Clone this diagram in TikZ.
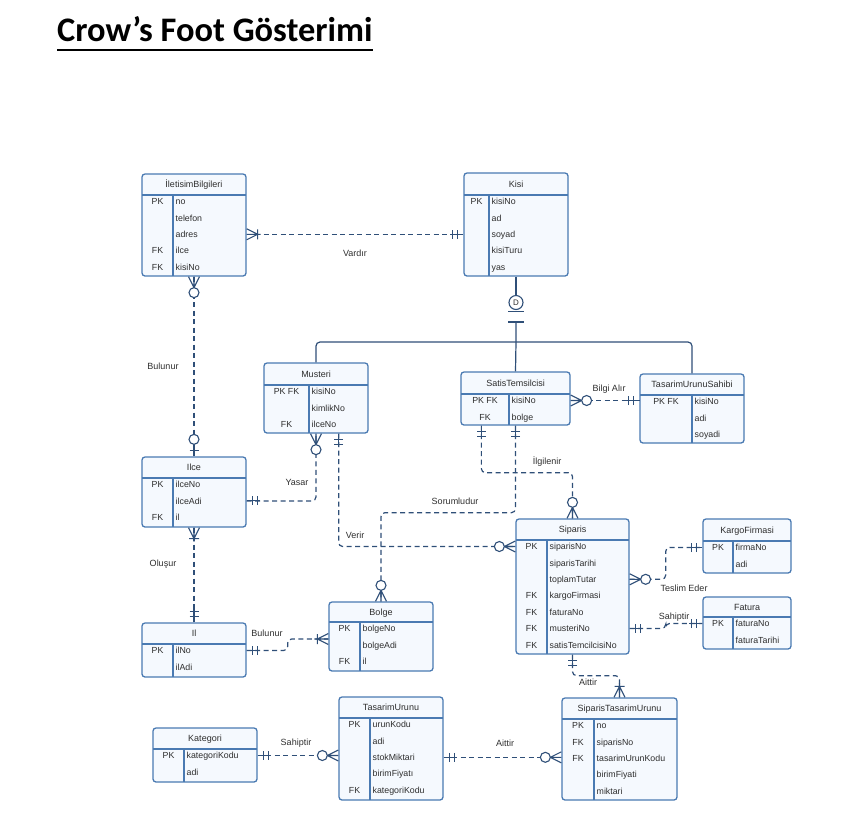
\documentclass[tikz,border=0pt]{standalone}
\usepackage{fontspec}
\setmainfont{Liberation Sans}
\newfontfamily\titlefont{Carlito}
\usetikzlibrary{calc}
\definecolor{entstroke}{HTML}{4A7AB2}
\definecolor{entfill}{HTML}{F5F9FE}
\definecolor{conn}{HTML}{2F4F78}
\definecolor{txt}{HTML}{2E2E2E}
\tikzset{
  entbox/.style={draw=entstroke, fill=entfill, line width=1.3pt, rounded corners=3pt, inner sep=0pt},
  entline/.style={draw=entstroke, line width=1.3pt},
  enttitle/.style={anchor=base, inner sep=0pt, text=txt, font=\fontsize{9}{10}\selectfont},
  keytext/.style={anchor=base, inner sep=0pt, text=txt, font=\fontsize{8.8}{10}\selectfont},
  fieldtext/.style={anchor=base west, inner sep=0pt, text=txt, font=\fontsize{8.8}{10}\selectfont},
  rel/.style={draw=conn, line width=1.2pt, dash pattern=on 5pt off 3.5pt, rounded corners=4pt},
  rellabel/.style={inner sep=0pt, text=txt, font=\fontsize{9}{10}\selectfont},
  isaline/.style={draw=conn, line width=1.2pt},
  erend/.style={draw=conn, line width=1.1pt, solid},
  pics/onlyone/.style={code={\draw[erend] (0,0)--(13,0) (6,-4.5)--(6,4.5) (10.5,-4.5)--(10.5,4.5);}},
  pics/onemany/.style={code={\draw[erend] (0,-5.5)--(11,0)--(0,5.5) (0,0)--(14,0) (11,-5)--(11,5);}},
  pics/zeromany/.style={code={\draw[erend] (0,-5.5)--(11,0)--(0,5.5) (0,0)--(11,0); \draw[erend,fill=white] (16,0) circle[radius=5];}},
  pics/zeroone/.style={code={\draw[erend] (0,0)--(12,0) (6,-4.5)--(6,4.5); \draw[erend,fill=white] (17,0) circle[radius=5];}},
}
% #1 id, #2 left, #3 top, #4 right, #5 divider, #6 header bottom, #7 bottom, #8 title, #9 rows
\newcommand\erent[9]{%
  \node[entbox, minimum width={(#4-#2)*1pt}, minimum height={(#7-#3)*1pt}] (#1) at ({(#2+#4)/2},{(#3+#7)/2}) {};
  \draw[entline] (#2,#6) -- (#4,#6) (#5,#6) -- (#5,#7);
  \node[enttitle] (#1-t) at ({(#2+#4)/2},{(#3+#6)/2+3.3}) {#8};
  \foreach \k/\f [count=\i] in {#9} {%
    \coordinate (#1-r\i) at (#5,{#6+6.5+(\i-1)*16.4});
    \node[keytext] (#1-k\i) at ({(#2+#5)/2},{#6+6.5+(\i-1)*16.4+3.2}) {\k};
    \node[fieldtext] (#1-\i) at ({#5+2.5},{#6+6.5+(\i-1)*16.4+3.2}) {\f};
  }%
}
\begin{document}
\begin{tikzpicture}[x=1pt,y=-1pt]
\useasboundingbox (0,0) rectangle (846,831);
% title
\node[anchor=base west, inner sep=0pt, font=\titlefont\bfseries\fontsize{34.4}{38}\selectfont] (title) at (57,41) {Crow’s Foot Gösterimi};
\draw[line width=2.3pt] ($(title.base west)+(0,9)$) -- ($(title.base east)+(0,9)$);
% entities
\erent{iletisim}{142}{174}{246}{173}{195}{276}{İletisimBilgileri}{PK/no, /telefon, /adres, FK/ilce, FK/kisiNo}
\erent{kisi}{464}{173}{568}{489}{195}{276}{Kisi}{PK/kisiNo, /ad, /soyad, /kisiTuru, /yas}
\erent{musteri}{264}{363}{368}{309}{385}{433}{Musteri}{PK FK/kisiNo, /kimlikNo, FK/ilceNo}
\erent{satis}{461}{372}{570}{509}{394}{425}{SatisTemsilcisi}{PK FK/kisiNo, FK/bolge}
\erent{tus}{640}{374}{744}{692}{395}{443}{TasarimUrunuSahibi}{PK FK/kisiNo, /adi, /soyadi}
\erent{ilce}{142}{457}{246}{173}{478}{527}{Ilce}{PK/ilceNo, /ilceAdi, FK/il}
\erent{il}{142}{623}{246}{173}{644}{677}{Il}{PK/ilNo, /ilAdi}
\erent{bolge}{329}{602}{433}{360}{622}{671}{Bolge}{PK/bolgeNo, /bolgeAdi, FK/il}
\erent{siparis}{516}{519}{629}{547}{540}{654}{Siparis}{PK/siparisNo, /siparisTarihi, /toplamTutar, FK/kargoFirmasi, FK/faturaNo, FK/musteriNo, FK/satisTemcilcisiNo}
\erent{kargo}{703}{519}{791}{733}{541}{573}{KargoFirmasi}{PK/firmaNo, /adi}
\erent{fatura}{703}{597}{791}{733}{617}{649}{Fatura}{PK/faturaNo, /faturaTarihi}
\erent{kategori}{153}{728}{257}{184}{749}{782}{Kategori}{PK/kategoriKodu, /adi}
\erent{tu}{339}{697}{443}{370}{718}{800}{TasarimUrunu}{PK/urunKodu, /adi, /stokMiktari, /birimFiyatı, FK/kategoriKodu}
\erent{stu}{562}{698}{677}{594}{719}{800}{SiparisTasarimUrunu}{PK/no, FK/siparisNo, FK/tasarimUrunKodu, /birimFiyati, /miktari}
% ISA (disjoint) structure
\node[circle, draw=conn, line width=1.1pt, minimum size=14pt, inner sep=0pt, fill=white, text=txt, font=\fontsize{8}{8}\selectfont] (isad) at (516,302.5) {D};
\draw[isaline] (kisi.south) -- (isad.north);
\draw[isaline] ($(isad.south)+(-8,1.2)$) -- ($(isad.south)+(8,1.2)$);
\coordinate (isat) at (516,322);
\coordinate (isabus) at (516,342);
\draw[isaline] ($(isat)+(-8,0)$) -- ($(isat)+(8,0)$);
\draw[isaline] (isat) -- (isabus) -- (satis.north);
\draw[isaline, rounded corners=4pt] (musteri.north) -- (musteri.north |- isabus) -- (tus.north |- isabus) -- (tus.north);
% helper coordinates
\coordinate (musv) at ($(musteri.south east)+(-30,0)$);
\coordinate (satv) at ($(satis.south west)+(21,0)$);
\coordinate (bolgw) at ($(bolge.west)+(0,2.5)$);
% relationships
\draw[rel] (iletisim.east |- iletisim-r3) -- (kisi.west |- iletisim-r3);
\pic at (iletisim.east |- iletisim-r3) {onemany};
\pic[rotate=180] at (kisi.west |- iletisim-r3) {onlyone};
\node[rellabel] (l-vardir) at (355,253) {Vardır};

\draw[rel] (iletisim.south) -- (ilce.north);
\pic[rotate=-90] at (iletisim.south) {zeromany};
\pic[rotate=90] at (ilce.north) {zeroone};
\node[rellabel] (l-bulunur1) at (163,366) {Bulunur};

\draw[rel] (ilce.east |- ilce-r2) -| (musteri.south);
\pic at (ilce.east |- ilce-r2) {onlyone};
\pic[rotate=-90] at (musteri.south) {zeromany};
\node[rellabel] (l-yasar) at (297,482) {Yasar};

\draw[rel] (musv) |- (siparis.west |- siparis-r1);
\pic[rotate=-90] at (musv) {onlyone};
\pic[rotate=180] at (siparis.west |- siparis-r1) {zeromany};
\node[rellabel] (l-verir) at (355,535) {Verir};

\draw[rel] (satis.east |- satis-r1) -- (tus.west |- satis-r1);
\pic at (satis.east |- satis-r1) {zeromany};
\pic[rotate=180] at (tus.west |- satis-r1) {onlyone};
\node[rellabel] (l-bilgi) at (609,389) {Bilgi Alır};

\draw[rel] (satis.south) -- ++(0,87) -| (bolge.north);
\pic[rotate=-90] at (satis.south) {onlyone};
\pic[rotate=90] at (bolge.north) {zeromany};
\node[rellabel] (l-sorum) at (455,501) {Sorumludur};

\draw[rel] (satv) -- ++(0,47) -| (siparis.north);
\pic[rotate=-90] at (satv) {onlyone};
\pic[rotate=90] at (siparis.north) {zeromany};
\node[rellabel] (l-ilgi) at (547,462) {İlgilenir};

\draw[rel] (ilce.south) -- (il.north);
\pic[rotate=-90] at (ilce.south) {onemany};
\pic[rotate=90] at (il.north) {onlyone};
\node[rellabel] (l-olusur) at (163,564) {Oluşur};

\draw[rel] (il.east |- il-r1) -- ++(41,0) |- (bolgw);
\pic at (il.east |- il-r1) {onlyone};
\pic[rotate=180] at (bolgw) {onemany};
\node[rellabel] (l-bulunur2) at (267,633) {Bulunur};

\draw[rel] (siparis.east |- siparis-r3) -- ++(36,0) |- (kargo.west |- kargo-r1);
\pic at (siparis.east |- siparis-r3) {zeromany};
\pic[rotate=180] at (kargo.west |- kargo-r1) {onlyone};
\node[rellabel] (l-teslim) at (684,588) {Teslim Eder};

\draw[rel] (siparis.east |- siparis-r6) -- ++(36,0) |- (fatura.west |- fatura-r1);
\pic at (siparis.east |- siparis-r6) {onlyone};
\pic[rotate=180] at (fatura.west |- fatura-r1) {onlyone};
\node[rellabel] (l-sahip1) at (674,617) {Sahiptir};

\draw[rel] (siparis.south) -- ++(0,21) -| (stu.north);
\pic[rotate=-90] at (siparis.south) {onlyone};
\pic[rotate=90] at (stu.north) {onemany};
\node[rellabel] (l-aittir1) at (588,682) {Aittir};

\draw[rel] (kategori.east |- kategori-r1) -- (tu.west |- kategori-r1);
\pic at (kategori.east |- kategori-r1) {onlyone};
\pic[rotate=180] at (tu.west |- kategori-r1) {zeromany};
\node[rellabel] (l-sahip2) at (296,743) {Sahiptir};

\draw[rel] (tu.east |- tu-r3) -- (stu.west |- tu-r3);
\pic at (tu.east |- tu-r3) {onlyone};
\pic[rotate=180] at (stu.west |- tu-r3) {zeromany};
\node[rellabel] (l-aittir2) at (505,743) {Aittir};
\end{tikzpicture}
\end{document}
